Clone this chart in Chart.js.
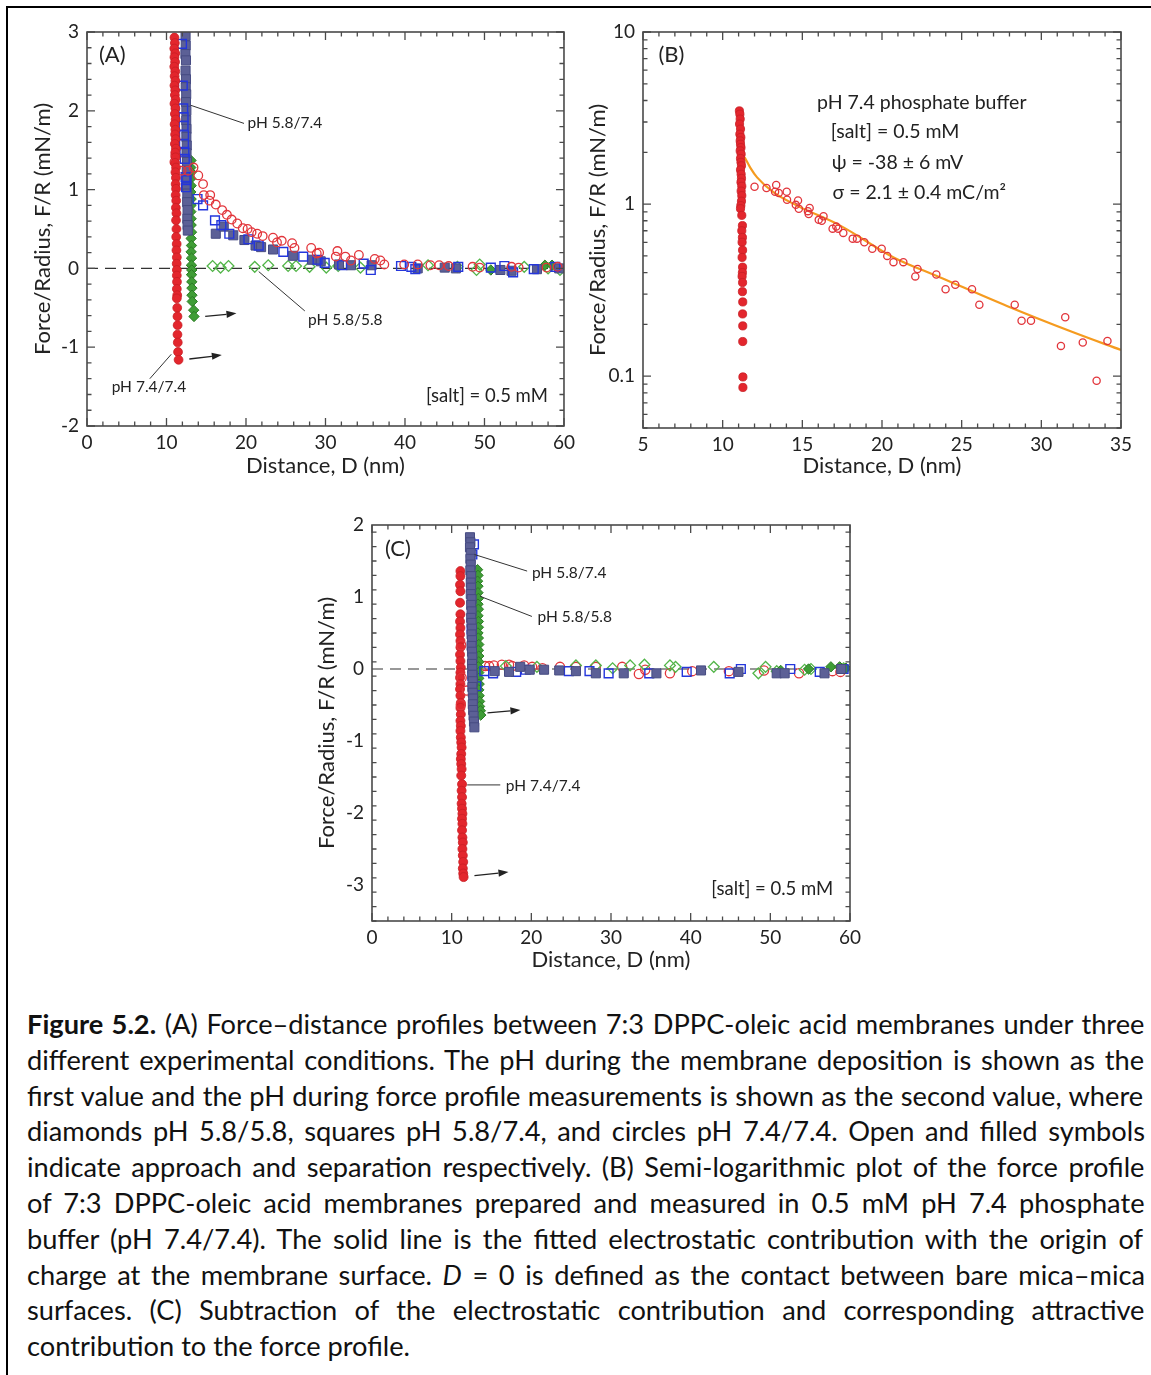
<!DOCTYPE html>
<html><head><meta charset="utf-8">
<script src="https://cdn.jsdelivr.net/npm/chart.js@4.4.0/dist/chart.umd.min.js"></script>
<style>
html,body{margin:0;padding:0;background:#fff;}
body{width:1151px;height:1375px;position:relative;overflow:hidden;}
#frame{position:absolute;left:6px;top:6px;width:1200px;height:1400px;border-top:2px solid #000;border-left:2px solid #000;}
canvas{position:absolute;}
#caption{position:absolute;left:27px;top:1006px;width:1118px;color:#111;font-family:Lato,"Open Sans",sans-serif;}
#caption div{white-space:nowrap;line-height:35.8px;height:35.8px;}
</style></head>
<body>
<div id="frame"></div>
<canvas id="cA" width="580" height="480" style="left:0;top:0"></canvas>
<canvas id="cB" width="571" height="480" style="left:580px;top:0"></canvas>
<canvas id="cC" width="580" height="480" style="left:290px;top:500px"></canvas>
<div id="caption"></div>
<script>
// ===================== DATA =====================
// Panel A
const A_redSepD=[11.00,11.05,10.98,11.10,11.00,11.08,10.98,11.10,11.02,11.12,
 11.00,11.10,11.05,11.15,11.00,11.12,11.05,11.15,11.02,11.12,
 11.08,11.15,11.05,11.18,11.10,11.15,11.08,11.20,11.12,11.18,
 11.15,11.20,11.15,11.22,11.18,11.25,11.20,11.25,11.22,11.28,
 11.25,11.30,11.28,11.30,11.30,11.32,11.30,11.35,11.30,11.35,
 11.38,11.40,11.38,11.42,11.45,11.52];
const A_redSepF=[2.93,2.86,2.79,2.73,2.68,2.62,2.56,2.50,2.44,2.38,
 2.32,2.26,2.20,2.14,2.09,2.03,1.96,1.89,1.83,1.76,
 1.70,1.64,1.58,1.52,1.47,1.41,1.34,1.28,1.22,1.15,
 1.07,1.01,0.93,0.86,0.77,0.70,0.61,0.50,0.40,0.31,
 0.23,0.14,0.06,-0.02,-0.09,-0.17,-0.26,-0.34,-0.38,-0.50,
 -0.61,-0.72,-0.84,-0.94,-1.06,-1.16];
const A_redAppD=[11.0,11.1,11.9,12.7,13.4,14.0,14.6,14.7,15.5,15.4,16.2,17.0,17.6,18.2,18.9,19.6,20.2,20.7,21.4,22.1,23.4,23.9,24.5,25.8,26.1,28.2,28.9,29.2,31.5,31.3,32.5,33.2,34.2,36.2,36.9,37.4,39.9,41.6,43.2,44.3,45.5,48.5,49.4,53.4,54.3,57.8,59.2];
const A_redAppF=[1.35,1.43,1.24,1.24,1.28,1.18,1.07,0.93,0.93,0.86,0.81,0.74,0.68,0.62,0.57,0.51,0.50,0.46,0.44,0.41,0.39,0.33,0.35,0.32,0.26,0.26,0.19,0.20,0.22,0.15,0.15,0.10,0.17,0.12,0.10,0.05,0.05,0.05,0.04,0.04,0.03,0.02,0.01,0.02,0.01,0.01,0.02];
const A_blueSepD=[12.40,12.42,12.38,12.45,12.40,12.45,12.42,12.48,12.45,12.50,12.48,12.52,12.50,12.55,12.52,12.58,12.55,12.60,12.58,12.62,12.60,12.65,12.62,12.65,12.68,
 16.2,17.2,18.4,19.8,21.2,21.9,23.4,25.9,28.3,29.4,31.7,33.2,35.8,41.6,45.0,46.4,52.0,53.4,56.6,59.4];
const A_blueSepF=[2.95,2.83,2.72,2.64,2.51,2.40,2.30,2.21,2.11,2.00,1.88,1.77,1.67,1.56,1.46,1.35,1.24,1.14,1.03,0.95,0.84,0.74,0.63,0.55,0.48,
 0.44,0.53,0.42,0.36,0.29,0.27,0.24,0.16,0.11,0.09,0.05,0.04,0.04,0.0,0.01,0.0,-0.02,-0.03,-0.01,0.0];
const A_blueAppD=[11.95,12.05,12.10,12.15,12.15,12.20,12.20,12.25,12.30,12.40,12.45,
 12.5,13.9,14.6,16.1,16.9,17.9,20.3,21.6,24.7,27.2,29.0,29.9,32.1,34.8,35.7,39.5,40.8,41.3,46.7,50.8,52.5,53.6,56.2,58.9];
const A_blueAppF=[2.85,2.32,2.03,1.92,1.81,1.69,1.58,1.48,1.39,1.16,1.03,
 1.12,0.88,0.80,0.61,0.55,0.44,0.37,0.29,0.21,0.15,0.11,0.07,0.04,0.06,-0.02,0.03,0.02,-0.01,0.02,0.01,0.03,-0.05,-0.01,0.02];
const A_greenSepD=[13.08,13.05,13.10,13.06,13.10,13.05,13.10,13.08,13.06,13.10,13.10,13.14,13.10,13.14,13.10,13.15,13.14,13.18,13.15,13.18,13.20,13.20,13.24,13.42,13.46,
 50.8,57.6,58.5];
const A_greenSepF=[1.37,1.28,1.22,1.14,1.05,0.97,0.88,0.80,0.72,0.63,0.55,0.46,0.38,0.29,0.21,0.13,0.04,-0.02,-0.08,-0.17,-0.25,-0.34,-0.42,-0.53,-0.61,
 -0.02,0.04,0.04];
const A_greenAppD=[15.8,16.8,17.8,21.1,22.8,25.3,26.3,28.0,30.1,31.6,34.4,42.9,46.6,49.0,49.4,55.0,58.0,59.5];
const A_greenAppF=[0.03,0.01,0.03,0.02,0.04,0.03,0.03,0.02,0.01,0.03,0.01,0.04,0.02,-0.02,0.05,0.02,0.0,-0.02];

// Panel B
const B_sepD=[11.05,11.08,11.10,11.06,11.12,11.08,11.14,11.10,11.12,11.15,
 11.10,11.16,11.12,11.15,11.18,11.12,11.16,11.18,11.15,11.20,
 11.16,11.20,11.18,11.14,11.12,11.20,11.24,11.20,11.24,11.22,
 11.25,11.22,11.25,11.24,11.22,11.25,11.24,11.26,11.25,11.26,
 11.26,11.27,11.27];
const B_sepF=[3.48,3.33,3.12,2.92,2.73,2.55,2.44,2.33,2.23,2.13,
 2.04,1.95,1.84,1.75,1.67,1.58,1.49,1.41,1.34,1.27,
 1.19,1.12,1.04,0.98,0.94,0.86,0.75,0.70,0.64,0.60,
 0.54,0.49,0.43,0.40,0.38,0.35,0.31,0.27,0.23,0.196,
 0.159,0.099,0.086];
const B_appD=[12.0,12.75,13.36,13.29,13.52,14.02,14.04,14.73,14.59,14.78,15.46,15.40,15.35,16.03,16.33,16.22,16.90,17.13,17.25,17.57,18.16,18.43,18.89,19.39,19.98,20.33,20.72,21.34,22.09,22.23,23.41,23.99,24.60,25.65,26.11,28.33,28.76,29.35,31.23,31.50,32.6,33.47,34.15];
const B_appF=[1.26,1.24,1.29,1.18,1.16,1.18,1.06,1.05,0.99,0.94,0.95,0.875,0.91,0.81,0.85,0.80,0.72,0.74,0.72,0.68,0.63,0.63,0.60,0.55,0.55,0.50,0.46,0.46,0.38,0.42,0.39,0.32,0.34,0.32,0.26,0.26,0.21,0.21,0.15,0.22,0.157,0.094,0.16];
const B_fitD=[11.38,11.73,12.16,13.2,14.67,17.38,20.73,23.66,27.84,32.0,35.0];
const B_fitF=[1.87,1.63,1.43,1.17,0.98,0.75,0.49,0.375,0.256,0.18,0.142];

// Panel C
const C_redSepD=[11.10,11.10,11.05,11.10,11.05,11.10,11.05,11.10,11.05,11.10,
 11.10,11.05,11.10,11.15,11.10,11.05,11.10,11.05,11.10,11.15,
 11.10,11.15,11.10,11.15,11.10,11.15,11.20,11.25,11.20,11.15,
 11.20,11.25,11.20,11.30,11.25,11.30,11.25,11.30,11.35,11.30,
 11.35,11.30,11.35,11.40,11.35,11.40,11.45,11.40,11.45,11.50];
const C_redSepF=[1.36,1.29,1.17,1.08,0.92,0.76,0.66,0.57,0.48,0.39,
 0.30,0.20,0.11,0.02,-0.05,-0.12,-0.21,-0.28,-0.37,-0.47,
 -0.54,-0.63,-0.72,-0.79,-0.86,-0.95,-1.02,-1.09,-1.18,-1.25,
 -1.32,-1.39,-1.48,-1.60,-1.69,-1.78,-1.87,-1.94,-2.01,-2.08,
 -2.15,-2.24,-2.34,-2.41,-2.50,-2.59,-2.68,-2.77,-2.84,-2.89];
const C_redAppD=[11.2,11.25,11.15,11.9,
 14.2,14.7,15.3,16.3,17.2,17.6,19.1,20.1,21.4,23.6,25.6,28.1,31.4,33.5,34.3,37.4,40.2,44.8,49.2,53.6,57.8,58.8];
const C_redAppF=[0.33,-0.12,-0.50,-0.30,
 0.04,0.04,0.05,0.06,0.06,0.04,0.05,0.03,0.01,0.03,0.03,0.03,0.03,-0.07,-0.01,-0.06,-0.03,-0.03,-0.02,-0.06,-0.03,-0.04];
const C_blueSepD=[12.30,12.35,12.30,12.40,12.35,12.40,12.35,12.45,12.40,12.45,
 12.40,12.50,12.45,12.50,12.45,12.50,12.55,12.50,12.55,12.50,
 12.55,12.60,12.55,12.60,12.60,12.65,12.60,12.65,12.70,12.65,
 12.70,12.75,12.80,12.85,
 15.4,17.2,18.6,19.8,21.6,23.5,25.6,28.1,31.6,35.7,41.3,46.0,50.8,51.8,56.8,58.9];
const C_blueSepF=[1.83,1.76,1.69,1.61,1.53,1.45,1.37,1.29,1.20,1.13,
 1.04,0.97,0.89,0.80,0.71,0.64,0.56,0.48,0.40,0.32,
 0.24,0.16,0.07,0.00,-0.08,-0.17,-0.25,-0.33,-0.41,-0.49,
 -0.57,-0.65,-0.73,-0.81,
 -0.03,-0.04,0.03,-0.01,-0.01,-0.02,-0.03,-0.06,-0.06,-0.06,-0.02,-0.04,-0.06,-0.06,-0.06,0.0];
const C_blueAppD=[12.8,12.6,12.5,12.6,13.1,
 14.1,15.2,18.1,19.3,24.7,27.3,29.7,34.8,39.5,44.9,46.3,52.5,56.2,59.2];
const C_blueAppF=[1.73,1.59,0.55,-0.10,-0.24,
 -0.03,-0.06,-0.04,-0.01,-0.03,-0.03,-0.06,-0.06,-0.04,-0.06,0.0,0.0,-0.04,0.0];
const C_greenSepD=[13.25,13.30,13.25,13.30,13.30,13.35,13.30,13.35,13.30,13.35,
 13.35,13.30,13.35,13.40,13.35,13.40,13.40,13.35,13.40,13.40,
 13.45,13.40,13.45,13.50,13.50,13.60,13.65,
 51.3,54.8,57.6,58.7,59.5];
const C_greenSepF=[1.38,1.30,1.22,1.15,1.06,0.98,0.90,0.83,0.74,0.66,
 0.58,0.50,0.43,0.34,0.26,0.18,0.10,0.03,-0.05,-0.13,
 -0.21,-0.29,-0.37,-0.45,-0.52,-0.58,-0.64,
 -0.02,0.0,0.03,0.03,0.01];
const C_greenAppD=[16.8,20.7,25.6,28.1,30.2,32.4,34.2,37.4,38.1,42.9,48.5,49.4,50.8,54.3,55.1,59.2];
const C_greenAppF=[0.04,0.03,0.05,0.05,0.01,0.05,0.06,0.05,0.03,0.03,-0.06,0.03,-0.03,-0.01,0.0,0.01];

// tick values
const linTicksX=[0,10,20,30,40,50,60];
const ticksA_Y=[-2,-1,0,1,2,3];
const ticksB_X=[5,10,15,20,25,30,35];
const ticksB_Y=[0.1,1,10];
const ticksC_Y=[-3,-2,-1,0,1,2];

// ===================== HELPERS =====================
const FONT='Lato';
const pts=(xs,ys)=>xs.map((x,i)=>({x:x,y:ys[i]}));
const COL={red:'#e3262d',redE:'#c81e25',redO:'#e2353b',blueO:'#2436dc',blueF:'#5c6096',blueE:'#464b82',greenF:'#3f9d36',greenE:'#2b7c24',greenO:'#52b548',orange:'#f59b1f'};

function ds(label,data,style,order,r){
  const base={label:label,data:data,showLine:false,order:order,clip:0};
  if(style==='redF')Object.assign(base,{pointStyle:'circle',pointRadius:r||4.4,backgroundColor:COL.red,borderColor:COL.redE,borderWidth:0.8});
  if(style==='redO')Object.assign(base,{pointStyle:'circle',pointRadius:r||4.3,backgroundColor:'rgba(0,0,0,0)',borderColor:COL.redO,borderWidth:1.3});
  if(style==='blueF')Object.assign(base,{pointStyle:'rect',pointRadius:r||6.4,backgroundColor:COL.blueF,borderColor:COL.blueE,borderWidth:1});
  if(style==='blueO')Object.assign(base,{pointStyle:'rect',pointRadius:r||6.2,backgroundColor:'rgba(0,0,0,0)',borderColor:COL.blueO,borderWidth:1.4});
  if(style==='greenF')Object.assign(base,{pointStyle:'rectRot',pointRadius:r||5.2,backgroundColor:COL.greenF,borderColor:COL.greenE,borderWidth:1});
  if(style==='greenO')Object.assign(base,{pointStyle:'rectRot',pointRadius:r||5.4,backgroundColor:'rgba(0,0,0,0)',borderColor:COL.greenO,borderWidth:1.3});
  base.pointHoverRadius=base.pointRadius;
  return base;
}

const deco={
  id:'deco',
  beforeDatasetsDraw(chart,args,o){
    const ctx=chart.ctx, a=chart.chartArea, xs=chart.scales.x, ys=chart.scales.y;
    ctx.save();
    if(o.zero){
      const y0=ys.getPixelForValue(0);
      ctx.strokeStyle='#333';ctx.lineWidth=1.2;ctx.setLineDash([11,7]);
      ctx.beginPath();ctx.moveTo(a.left,y0);ctx.lineTo(a.right,y0);ctx.stroke();
      ctx.setLineDash([]);
    }
    ctx.restore();
  },
  afterDatasetsDraw(chart,args,o){
    const ctx=chart.ctx, a=chart.chartArea, xs=chart.scales.x, ys=chart.scales.y;
    ctx.save();
    ctx.strokeStyle='#4a4a4a';ctx.lineWidth=1.6;
    ctx.strokeRect(a.left,a.top,a.right-a.left,a.bottom-a.top);
    ctx.lineWidth=1.3;
    const tickX=(v,len)=>{const p=xs.getPixelForValue(v);ctx.beginPath();ctx.moveTo(p,a.bottom);ctx.lineTo(p,a.bottom-len);ctx.moveTo(p,a.top);ctx.lineTo(p,a.top+len);ctx.stroke();};
    const tickY=(v,len)=>{const p=ys.getPixelForValue(v);ctx.beginPath();ctx.moveTo(a.left,p);ctx.lineTo(a.left+len,p);ctx.moveTo(a.right,p);ctx.lineTo(a.right-len,p);ctx.stroke();};
    const xo=chart.options.scales.x, yo=chart.options.scales.y;
    for(let v=xo.min;v<=xo.max+1e-9;v+=o.xMinor){const m=Math.abs(v/o.xMajor-Math.round(v/o.xMajor))<1e-6;tickX(v,m?8:4.5);}
    if(yo.type==='logarithmic'){
      for(const d of [0.01,0.1,1]){for(let k=1;k<10;k++){const v=k*d;if(v>=yo.min&&v<=yo.max)tickY(v,k===1?8:4.5);}}
      tickY(10,8);
    } else {
      for(let v=yo.min;v<=yo.max+1e-9;v+=o.yMinor){const m=Math.abs(v/o.yMajor-Math.round(v/o.yMajor))<1e-6;tickY(v,m?8:4.5);}
    }
    // leader lines
    ctx.strokeStyle='#333';ctx.lineWidth=1;
    (o.lines||[]).forEach(l=>{ctx.beginPath();ctx.moveTo(xs.getPixelForValue(l[0]),ys.getPixelForValue(l[1]));ctx.lineTo(xs.getPixelForValue(l[2]),ys.getPixelForValue(l[3]));ctx.stroke();});
    // arrows
    ctx.fillStyle='#222';ctx.strokeStyle='#222';ctx.lineWidth=1.3;
    (o.arrows||[]).forEach(l=>{
      const x1=xs.getPixelForValue(l[0]),y1=ys.getPixelForValue(l[1]),x2=xs.getPixelForValue(l[2]),y2=ys.getPixelForValue(l[3]);
      const ang=Math.atan2(y2-y1,x2-x1),hl=10,hw=3.6;
      const bx=x2-hl*Math.cos(ang),by=y2-hl*Math.sin(ang);
      ctx.beginPath();ctx.moveTo(x1,y1);ctx.lineTo(bx,by);ctx.stroke();
      ctx.beginPath();ctx.moveTo(x2,y2);ctx.lineTo(bx+hw*Math.sin(ang),by-hw*Math.cos(ang));ctx.lineTo(bx-hw*Math.sin(ang),by+hw*Math.cos(ang));ctx.closePath();ctx.fill();
    });
    // texts
    ctx.fillStyle='#222';ctx.textBaseline='middle';
    (o.texts||[]).forEach(t=>{ctx.font=t.size+'px '+FONT;ctx.textAlign=t.align||'left';ctx.fillText(t.text,xs.getPixelForValue(t.x),ys.getPixelForValue(t.y));});
    ctx.restore();
  }
};

function makePanel(id,W,H,area,xCfg,yCfg,datasets,decoOpts,titlePads){
  const tickFont={family:FONT,size:19};
  const titleFont={family:FONT,size:22};
  const xScale={type:'linear',min:xCfg.min,max:xCfg.max,
    grid:{display:false,drawTicks:false},border:{display:false},
    afterBuildTicks:s=>{s.ticks=xCfg.ticks.map(v=>({value:v}));},
    ticks:{font:tickFont,color:'#222',padding:5,maxRotation:0,autoSkip:false,callback:v=>String(v)},
    title:{display:true,text:'Distance, D (nm)',font:titleFont,color:'#222',padding:{top:0,bottom:titlePads.x}},
    afterFit:s=>{s.height=H-area.b;}};
  const yScale={type:yCfg.type||'linear',min:yCfg.min,max:yCfg.max,
    grid:{display:false,drawTicks:false},border:{display:false},
    afterBuildTicks:s=>{s.ticks=yCfg.ticks.map(v=>({value:v}));},
    ticks:{font:tickFont,color:'#222',padding:8,autoSkip:false,callback:v=>String(v)},
    title:{display:true,text:'Force/Radius, F/R (mN/m)',font:titleFont,color:'#222',padding:{top:titlePads.y,bottom:0}},
    afterFit:s=>{s.width=area.l;}};
  return new Chart(document.getElementById(id),{
    type:'scatter',
    data:{datasets:datasets},
    options:{responsive:false,animation:false,devicePixelRatio:1,
      layout:{padding:{left:0,top:area.t,right:W-area.r,bottom:0}},
      scales:{x:xScale,y:yScale},
      plugins:{legend:{display:false},tooltip:{enabled:false},deco:decoOpts}},
    plugins:[deco]
  });
}

// ===================== PANEL A =====================
makePanel('cA',580,480,{l:87,t:32,r:565,b:426},
 {min:0,max:60,ticks:linTicksX},{min:-2,max:3,ticks:ticksA_Y},
 [
  ds('pH 7.4/7.4 separation',pts(A_redSepD,A_redSepF),'redF',1),
  ds('pH 7.4/7.4 approach',pts(A_redAppD,A_redAppF),'redO',2),
  ds('pH 5.8/7.4 approach',pts(A_blueAppD,A_blueAppF),'blueO',3),
  ds('pH 5.8/7.4 separation',pts(A_blueSepD,A_blueSepF),'blueF',4),
  ds('pH 5.8/5.8 separation',pts(A_greenSepD,A_greenSepF),'greenF',5),
  ds('pH 5.8/5.8 approach',pts(A_greenAppD,A_greenAppF),'greenO',6)
 ],
 {zero:true,xMajor:10,xMinor:2,yMajor:1,yMinor:0.2,
  texts:[{x:1.5,y:2.71,text:'(A)',size:22},
         {x:20.2,y:1.84,text:'pH 5.8/7.4',size:15.5},
         {x:27.8,y:-0.65,text:'pH 5.8/5.8',size:15.5},
         {x:3.1,y:-1.50,text:'pH 7.4/7.4',size:15.5},
         {x:57.97,y:-1.62,text:'[salt] = 0.5 mM',size:18.5,align:'right'}],
  lines:[[13.05,2.07,19.75,1.84],[21.6,-0.04,27.4,-0.54],[10.6,-1.09,7.9,-1.40]],
  arrows:[[14.87,-0.61,18.8,-0.57],[12.87,-1.15,16.96,-1.10]]},
 {x:1,y:30});

// ===================== PANEL B =====================
const fitDs={type:'line',label:'fit',data:pts(B_fitD,B_fitF),showLine:true,borderColor:COL.orange,borderWidth:2.2,pointRadius:0,cubicInterpolationMode:'monotone',order:5,clip:0};
makePanel('cB',571,480,{l:63,t:32,r:541,b:428},
 {min:5,max:35,ticks:ticksB_X},{type:'logarithmic',min:0.05,max:10,ticks:ticksB_Y},
 [
  ds('pH 7.4/7.4 separation',pts(B_sepD,B_sepF),'redF',1,4.1),
  ds('pH 7.4/7.4 approach',pts(B_appD,B_appF),'redO',2,3.6),
  fitDs
 ],
 {zero:false,xMajor:5,xMinor:1,
  texts:[{x:5.97,y:7.35,text:'(B)',size:22},
         {x:15.92,y:3.87,text:'pH 7.4 phosphate buffer',size:19.5},
         {x:16.79,y:2.62,text:'[salt] = 0.5 mM',size:19.5},
         {x:16.84,y:1.75,text:'ψ = -38 ± 6 mV',size:19.5},
         {x:16.9,y:1.17,text:'σ = 2.1 ± 0.4 mC/m²',size:19.5}]},
 {x:1,y:5});

// ===================== PANEL C =====================
makePanel('cC',580,480,{l:82,t:25,r:560,b:421},
 {min:0,max:60,ticks:linTicksX},{min:-3.5,max:2,ticks:ticksC_Y},
 [
  ds('pH 7.4/7.4 separation',pts(C_redSepD,C_redSepF),'redF',6,4.5),
  ds('pH 7.4/7.4 approach',pts(C_redAppD,C_redAppF),'redO',5,4.6),
  ds('pH 5.8/5.8 approach',pts(C_greenAppD,C_greenAppF),'greenO',4),
  ds('pH 5.8/5.8 separation',pts(C_greenSepD,C_greenSepF),'greenF',3),
  ds('pH 5.8/7.4 approach',pts(C_blueAppD,C_blueAppF),'blueO',2),
  ds('pH 5.8/7.4 separation',pts(C_blueSepD,C_blueSepF),'blueF',1)
 ],
 {zero:true,xMajor:10,xMinor:2,yMajor:1,yMinor:0.2,
  texts:[{x:1.62,y:1.67,text:'(C)',size:22},
         {x:20.07,y:1.33,text:'pH 5.8/7.4',size:15.5},
         {x:20.77,y:0.72,text:'pH 5.8/5.8',size:15.5},
         {x:16.8,y:-1.62,text:'pH 7.4/7.4',size:15.5},
         {x:57.9,y:-3.05,text:'[salt] = 0.5 mM',size:18.5,align:'right'}],
  lines:[[12.87,1.59,19.47,1.36],[13.56,1.01,20.07,0.73],[11.95,-1.61,16.1,-1.61]],
  arrows:[[14.49,-0.61,18.63,-0.57],[12.86,-2.87,17.13,-2.82]]},
 {x:7,y:24});

// ===================== CAPTION =====================
const capLines=[
 [['Figure 5.2.','b'],[' (A) Force\u2013distance profiles between 7:3 DPPC-oleic acid membranes under three','']],
 [['different experimental conditions. The pH during the membrane deposition is shown as the','']],
 [['first value and the pH during force profile measurements is shown as the second value, where','']],
 [['diamonds pH 5.8/5.8, squares pH 5.8/7.4, and circles pH 7.4/7.4. Open and filled symbols','']],
 [['indicate approach and separation respectively. (B) Semi-logarithmic plot of the force profile','']],
 [['of 7:3 DPPC-oleic acid membranes prepared and measured in 0.5 mM pH 7.4 phosphate','']],
 [['buffer (pH 7.4/7.4). The solid line is the fitted electrostatic contribution with the origin of','']],
 [['charge at the membrane surface. ',''],['D','i'],[' = 0 is defined as the contact between bare mica\u2013mica','']],
 [['surfaces. (C) Subtraction of the electrostatic contribution and corresponding attractive','']],
 [['contribution to the force profile.','']]
];
(function(){
  const mc=document.createElement('canvas').getContext('2d');
  const fontOf=(st,sz)=>(st==='i'?'italic ':'')+(st==='b'?'bold ':'')+sz+'px '+FONT;
  const meas=(line,sz)=>line.reduce((w,s)=>{mc.font=fontOf(s[1],sz);return w+mc.measureText(s[0]).width;},0);
  const ref=meas(capLines[2],100);
  const fs=100*1112/ref;
  const cap=document.getElementById('caption');
  cap.style.fontSize=fs+'px';
  capLines.forEach((line,i)=>{
    const d=document.createElement('div');
    line.forEach(s=>{const sp=document.createElement('span');sp.textContent=s[0];if(s[1]==='b')sp.style.fontWeight='bold';if(s[1]==='i')sp.style.fontStyle='italic';d.appendChild(sp);});
    if(i<capLines.length-1){
      const w=meas(line,fs);
      const n=line.reduce((c,s)=>c+(s[0].match(/ /g)||[]).length,0);
      d.style.wordSpacing=((1118-w)/n)+'px';
    }
    cap.appendChild(d);
  });
})();
</script>
</body></html>
